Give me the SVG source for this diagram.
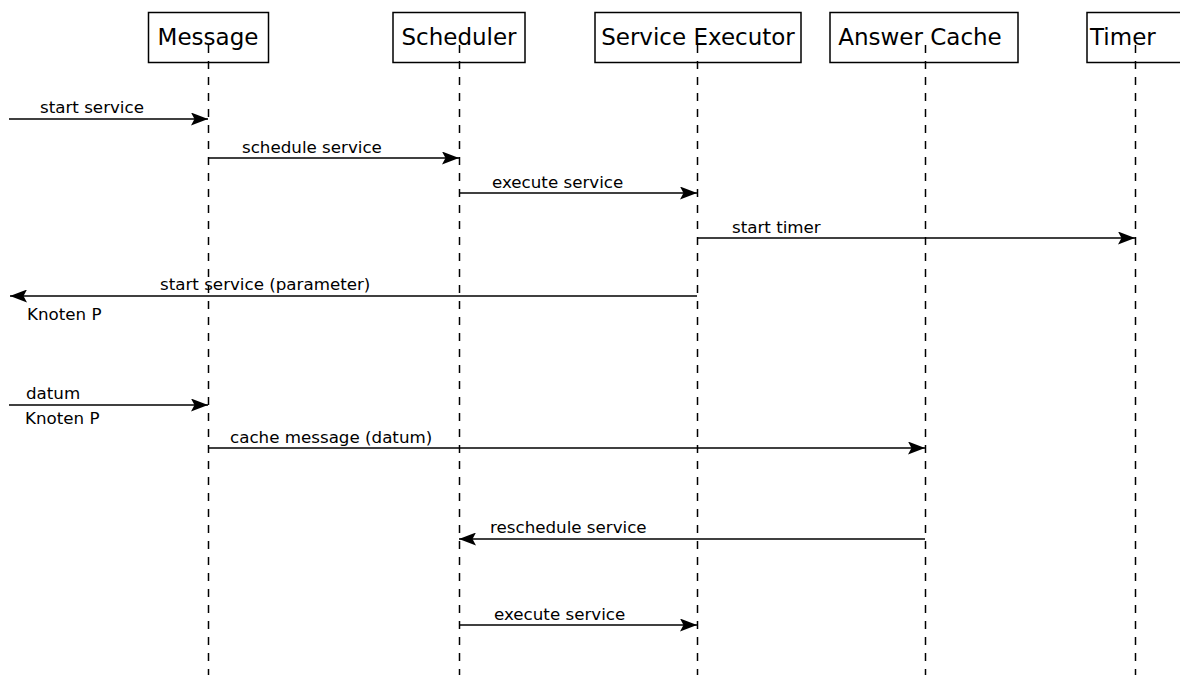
<svg xmlns="http://www.w3.org/2000/svg" width="1180" height="675" viewBox="0 0 1180 675">
<defs>
<style>
.box{fill:#fff;stroke:#000;stroke-width:1.5}
.title{font-family:"DejaVu Sans",sans-serif;font-size:23px;fill:#000}
.life{stroke:#000;stroke-width:1.5;stroke-dasharray:8 8;fill:none}
.msg{stroke:#000;stroke-width:1.5;fill:none;marker-end:url(#ah)}
.lbl{font-family:"DejaVu Sans",sans-serif;font-size:16.7px;fill:#000}
</style>
<marker id="ah" viewBox="0 0 17 13" refX="17" refY="6.5" markerWidth="17" markerHeight="13" markerUnits="userSpaceOnUse" orient="auto">
<path d="M0,0 L17,6.5 L0,13 L3.5,6.5 Z" fill="#000"/>
</marker>
</defs>
<rect width="1180" height="675" fill="#fff"/>
<g id="node-message">
<rect class="box" x="148.5" y="12.5" width="120" height="50"/>
<text class="title" x="208" y="45" text-anchor="middle">Message</text>
</g>
<g id="node-scheduler">
<rect class="box" x="393" y="12.5" width="132" height="50"/>
<text class="title" x="459" y="45" text-anchor="middle">Scheduler</text>
</g>
<g id="node-executor">
<rect class="box" x="595" y="12.5" width="206" height="50"/>
<text class="title" x="698" y="45" text-anchor="middle">Service Executor</text>
</g>
<g id="node-cache">
<rect class="box" x="830" y="12.5" width="188" height="50"/>
<text class="title" x="920" y="45" text-anchor="middle">Answer Cache</text>
</g>
<g id="node-timer">
<rect class="box" x="1087" y="12.5" width="100" height="50"/>
<text class="title" x="1090" y="45">Timer</text>
</g>
<g id="lifelines">
<line class="life" x1="208.5" y1="45" x2="208.5" y2="675"/>
<line class="life" x1="459.5" y1="45" x2="459.5" y2="675"/>
<line class="life" x1="697.5" y1="45" x2="697.5" y2="675"/>
<line class="life" x1="925.5" y1="45" x2="925.5" y2="675"/>
<line class="life" x1="1135.5" y1="45" x2="1135.5" y2="675"/>
</g>
<g id="connectors">
<line class="msg" x1="9" y1="119" x2="208" y2="119"/>
<line class="msg" x1="209" y1="158" x2="459" y2="158"/>
<line class="msg" x1="460" y1="193" x2="697" y2="193"/>
<line class="msg" x1="698" y1="238" x2="1135" y2="238"/>
<line class="msg" x1="697" y1="296" x2="10" y2="296"/>
<line class="msg" x1="9" y1="405" x2="208" y2="405"/>
<line class="msg" x1="209" y1="448" x2="925" y2="448"/>
<line class="msg" x1="925" y1="539" x2="459" y2="539"/>
<line class="msg" x1="460" y1="625" x2="697" y2="625"/>
</g>
<g id="labels">
<text class="lbl" x="40" y="113">start service</text>
<text class="lbl" x="242" y="153">schedule service</text>
<text class="lbl" x="492" y="188">execute service</text>
<text class="lbl" x="732" y="233">start timer</text>
<text class="lbl" x="160" y="290">start service (parameter)</text>
<text class="lbl" x="27" y="320">Knoten P</text>
<text class="lbl" x="26" y="399">datum</text>
<text class="lbl" x="25" y="424">Knoten P</text>
<text class="lbl" x="230" y="443">cache message (datum)</text>
<text class="lbl" x="490" y="533">reschedule service</text>
<text class="lbl" x="494" y="620">execute service</text>
</g>
</svg>
